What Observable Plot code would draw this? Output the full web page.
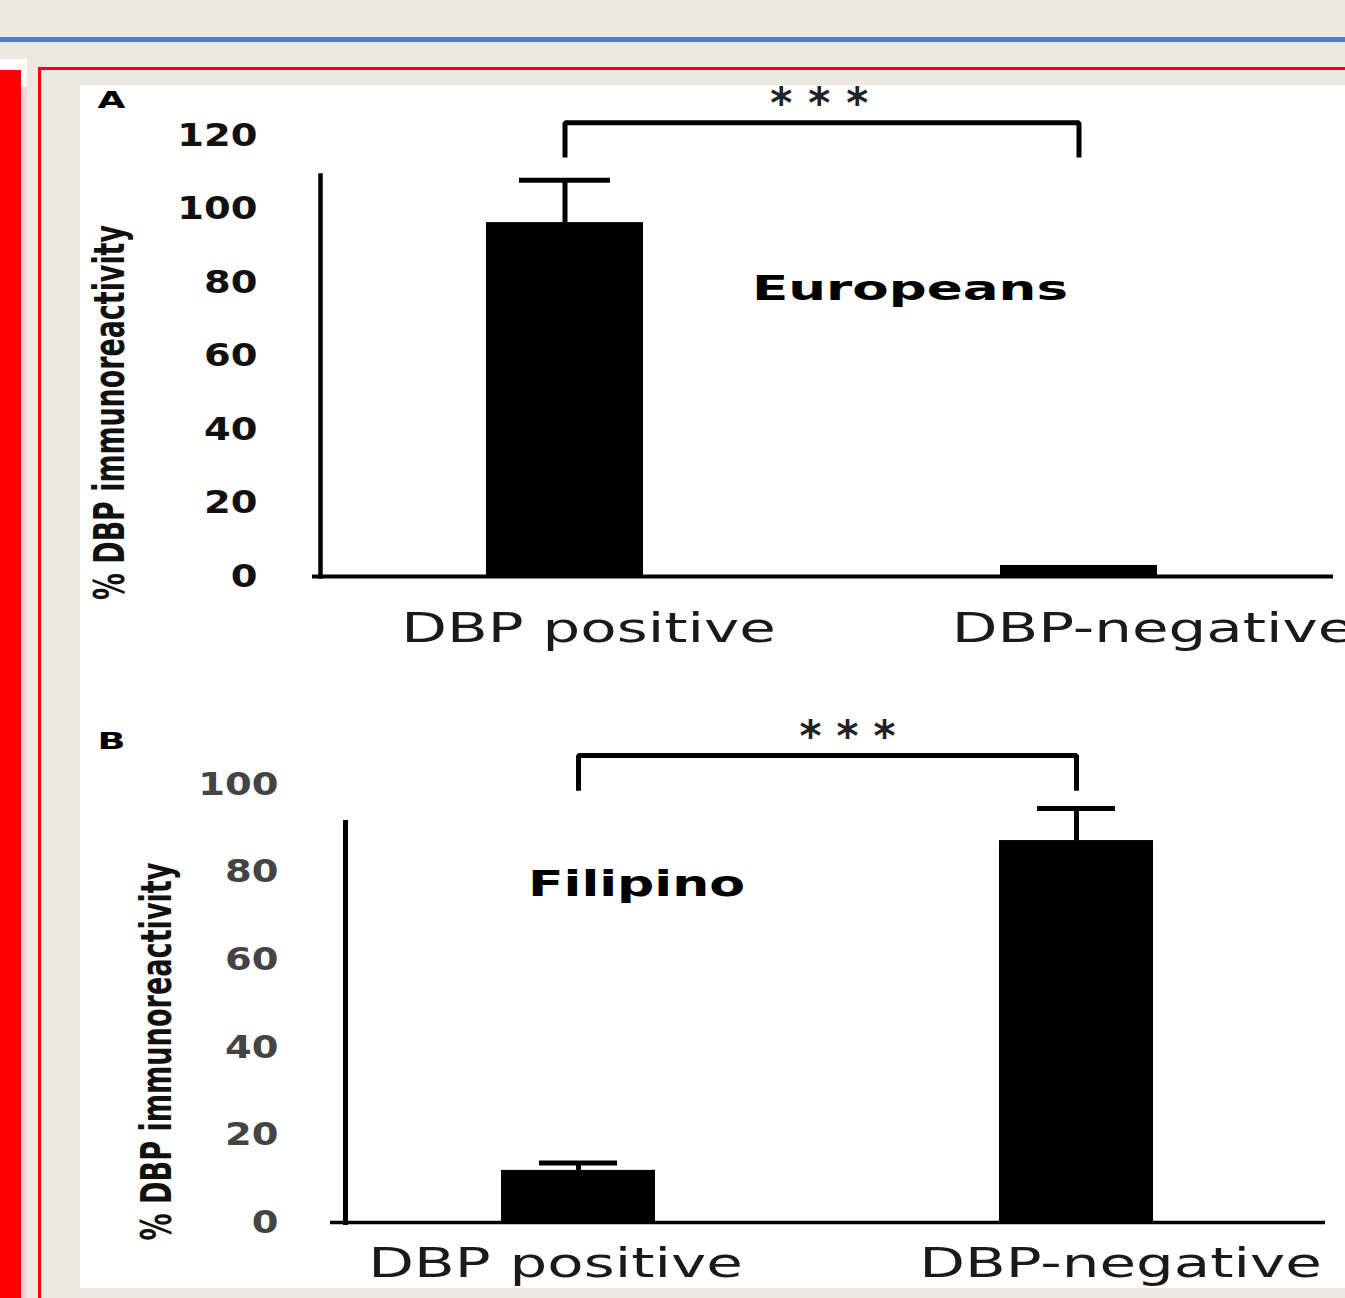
<!DOCTYPE html>
<html><head><meta charset="utf-8">
<script src="https://cdn.jsdelivr.net/npm/d3@7"></script>
<script src="https://cdn.jsdelivr.net/npm/@observablehq/plot@0.6"></script>
<style>
html,body{margin:0;padding:0}
body{width:1345px;height:1298px;overflow:hidden;background:#ECE9E0;position:relative;font-family:"DejaVu Sans",sans-serif}
.abs{position:absolute}
</style></head><body>
<div class="abs" style="left:0;top:37px;width:1345px;height:5px;background:#4F81BD"></div>
<div class="abs" style="left:0;top:59px;width:27px;height:1239px;background:#fff"></div>
<div class="abs" style="left:0;top:70px;width:21px;height:1228px;background:#f00"></div>
<div class="abs" style="left:21px;top:87px;width:6px;height:1211px;background:#FFD3D3"></div>
<div class="abs" style="left:38px;top:67px;width:1400px;height:1300px;border:3px solid #f00;box-sizing:border-box"></div>
<div class="abs" style="left:80px;top:85px;width:1265px;height:1203px;background:#fff"></div>
<div id="A" class="abs" style="left:80px;top:85px;width:1265px"></div>
<div id="B" class="abs" style="left:80px;top:680px;width:1265px"></div>
<script>
// ---- data ----
const categories = ["DBP positive", "DBP-negative"];
const europeansMean = [96.3, 3];
const europeansSEM = [11.5, 0];
const filipinoMean = [11.9, 87.2];
const filipinoSEM = [1.7, 7.3];
const yTicksA = [0, 20, 40, 60, 80, 100, 120];
const yTicksB = [0, 20, 40, 60, 80, 100];
const yTitle = "% DBP immunoreactivity";
const panelLetters = ["A", "B"];
const groupNames = ["Europeans", "Filipino"];
const sigLabel = "***";
const bracketTops = [123.5, 106.6];
const bracketLegs = [114, 98.6];
const starLevels = [130.3, 112.3];
const groupLabelLevels = [78.0, 77];

function stretch(svg, sel, o) {
  svg.querySelectorAll(sel).forEach(t => {
    const w = t.getComputedTextLength();
    const target = o.width != null ? o.width : w * o.factor;
    t.setAttribute("textLength", target);
    t.setAttribute("lengthAdjust", o.adjust || "spacingAndGlyphs");
  });
}

function panel(o) {
  const data = categories.map((c, i) => ({cat: c, mean: o.mean[i], sem: o.sem[i]}));
  const step = o.centers[1] - o.centers[0];
  const pi = 1 - o.bw / step, po = 0.5;
  const r0 = o.centers[0] - o.bw / 2 - step * po;
  const r1 = r0 + step * (categories.length - pi + 2 * po);
  const br = [[categories[0], o.leg], [categories[0], o.top], [categories[1], o.top], [categories[1], o.leg]];
  const withErr = data.filter(d => d.sem > 0);
  const marks = [
    Plot.barY(data, {x: "cat", y: "mean", fill: "#000"}),
    Plot.ruleX(withErr, {x: "cat", y1: "mean", y2: d => d.mean + d.sem, stroke: "#000", strokeWidth: o.errW}),
    Plot.tickY(withErr, {x: "cat", y: d => d.mean + d.sem, stroke: "#000", strokeWidth: o.errW, insetLeft: o.capInset, insetRight: o.capInset}),
    Plot.ruleY([0], {stroke: "#000", strokeWidth: o.xAxisW, insetLeft: -o.overhang}),
    Plot.frame({anchor: "left", stroke: "#000", strokeWidth: o.yAxisW}),
    Plot.line(br, {x: d => d[0], y: d => d[1], stroke: "#000", strokeWidth: o.brW, strokeLinejoin: "miter", strokeLinecap: "butt"}),
    Plot.text([sigLabel], {text: d => d, x: () => categories[0], y: () => o.star, dx: step / 2 + o.starDx, dy: 7, fontSize: 42, fontWeight: "bold", fill: "#222", ariaDescription: "stars"}),
    Plot.text([o.group], {text: d => d, x: () => categories[o.groupAt], y: () => o.groupY, dx: o.groupDx, lineAnchor: "middle", fontSize: o.groupFont, fontWeight: "bold", fill: "#000", ariaDescription: "group"}),
    Plot.text([o.letter], {text: d => d, frameAnchor: "top-left", dx: o.letterDx, dy: o.letterDy, lineAnchor: "middle", textAnchor: "middle", fontSize: 23, fontWeight: "bold", fill: "#000", ariaDescription: "letter"}),
    Plot.text([yTitle], {text: d => d, frameAnchor: "left", rotate: -90, dx: o.titleDx, dy: o.titleDy, lineAnchor: "middle", textAnchor: "middle", fontSize: 42, fontWeight: "bold", fontFamily: "'Liberation Sans Narrow','DejaVu Sans Condensed',sans-serif", fill: "#111", ariaDescription: "title"}),
    Plot.axisY({ticks: o.yTicks, tickSize: 0, tickPadding: o.tickPad, fontSize: 32, fontWeight: o.tickWeight, color: o.tickColor, label: null}),
    ...categories.map((c, i) => Plot.axisX({ticks: [c], tickSize: 0, tickPadding: o.xPad, dx: o.xDx[i], fontSize: 41, color: "#1a1a1a", label: null}))
  ];
  const svg = Plot.plot({
    width: 1265, height: o.height,
    marginLeft: o.ml, marginRight: o.mr, marginTop: o.mt, marginBottom: o.mb,
    style: {background: "transparent", overflow: "visible", maxWidth: "none", fontFamily: "'DejaVu Sans',sans-serif"},
    x: {type: "band", domain: categories, range: [r0, r1], paddingInner: pi, paddingOuter: po, align: 0.5, label: null},
    y: {domain: o.yDomain, range: o.yRange, label: null},
    marks
  });
  document.getElementById(o.el).appendChild(svg);
  stretch(svg, 'g[aria-label="y-axis tick label"] text', {factor: 1.2});
  stretch(svg, 'g[aria-label="x-axis tick label"] text', {factor: 1.45});
  stretch(svg, 'g[aria-description="group"] text', {width: o.groupW});
  stretch(svg, 'g[aria-description="letter"] text', {width: 28});
  stretch(svg, 'g[aria-description="title"] text', {width: o.titleW});
  stretch(svg, 'g[aria-description="stars"] text', {width: o.starW, adjust: "spacing"});
}

panel({
  el: "A", height: 590, ml: 240, mr: 12, mt: 90, mb: 99,
  yDomain: [0, 120], yRange: [491, 50], yTicks: yTicksA,
  centers: [484.5, 999], bw: 157, overhang: 8,
  mean: europeansMean, sem: europeansSEM,
  errW: 5, capInset: 33, xAxisW: 4, yAxisW: 4.5, brW: 5,
  top: bracketTops[0], leg: bracketLegs[0], star: starLevels[0], starDx: -3, starW: 98,
  group: groupNames[0], groupAt: 1, groupY: groupLabelLevels[0], groupDx: -169, groupFont: 33, groupW: 316,
  letter: panelLetters[0], letterDx: -209, letterDy: -75,
  titleDx: -210, titleDy: 36.5, titleW: 375,
  tickPad: 63, tickWeight: "bold", tickColor: "#111",
  xPad: 36, xDx: [23.5, 74]
});
panel({
  el: "B", height: 608, ml: 265, mr: 20, mt: 142, mb: 66,
  yDomain: [0, 100], yRange: [542, 104], yTicks: yTicksB,
  centers: [498, 996], bw: 154, overhang: 15,
  mean: filipinoMean, sem: filipinoSEM,
  errW: 5, capInset: 38, xAxisW: 3.5, yAxisW: 5, brW: 5,
  top: bracketTops[1], leg: bracketLegs[1], star: starLevels[1], starDx: 20, starW: 96,
  group: groupNames[1], groupAt: 0, groupY: groupLabelLevels[1], groupDx: 58, groupFont: 35, groupW: 217,
  letter: panelLetters[1], letterDx: -234, letterDy: -81,
  titleDx: -188, titleDy: 29, titleW: 378,
  tickPad: 67, tickWeight: "bold", tickColor: "#444",
  xPad: 25, xDx: [-23, 44]
});
</script>
</body></html>
